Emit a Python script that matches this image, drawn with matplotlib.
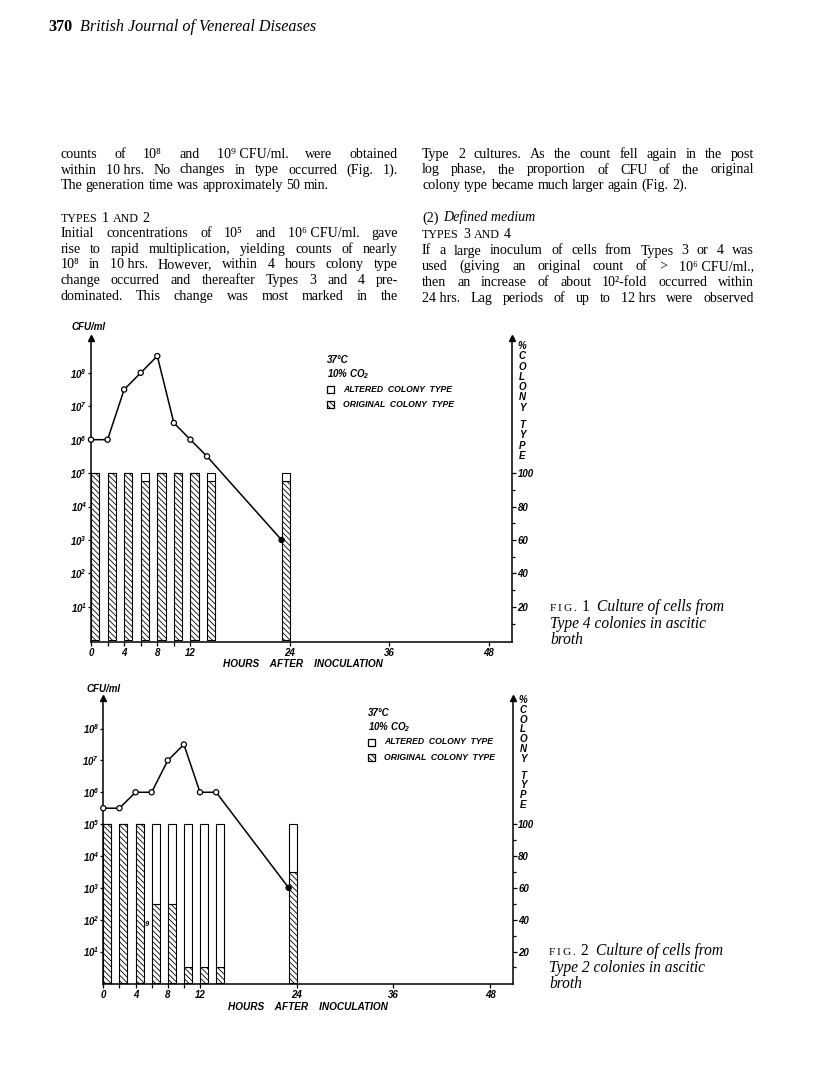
import matplotlib
matplotlib.use('Agg')
import matplotlib.pyplot as plt
from matplotlib.patches import Rectangle
from matplotlib.ticker import NullLocator, FixedLocator

# ---------------- data ----------------
hours = [0, 2, 4, 6, 8, 10, 12, 14, 23]
fig1_cfu = [1e6, 1e6, 10**7.5, 1e8, 10**8.5, 10**6.5, 1e6, 10**5.5, 1e3]
fig1_original_pct = [100, 100, 100, 95, 100, 100, 100, 95, 95]
fig2_cfu = [10**5.5, 10**5.5, 1e6, 1e6, 1e7, 10**7.5, 1e6, 1e6, 1e3]
fig2_original_pct = [100, 100, 100, 50, 50, 10, 10, 10, 70]

x_major_ticks = [0, 4, 8, 12, 24, 36, 48]
x_major_labels = ['0', '4', '8', '12', '24', '36', '48']
x_minor_ticks = [2, 6, 10]
y_log_ticks = [1e1, 1e2, 1e3, 1e4, 1e5, 1e6, 1e7, 1e8]
y_log_labels = [r'$10^{1}$', r'$10^{2}$', r'$10^{3}$', r'$10^{4}$',
                r'$10^{5}$', r'$10^{6}$', r'$10^{7}$', r'$10^{8}$']
pct_ticks = [20, 40, 60, 80, 100]
pct_labels = ['20', '40', '60', '80', '100']
pct_minor = [10, 30, 50, 70, 90]

legend_lines = ['37\u00b0C', r'10% CO$_{2}$']
legend_items = ['ALTERED  COLONY  TYPE', 'ORIGINAL  COLONY  TYPE']
right_label = ['%', 'C', 'O', 'L', 'O', 'N', 'Y', 'T', 'Y', 'P', 'E']
x_title = 'HOURS    AFTER    INOCULATION'

header_num = '370'
header_title = 'British Journal of Venereal Diseases'

left_col = [
    ('j', 'counts of 10\u2078 and 10\u2079\u00a0CFU/ml. were obtained'),
    ('j', 'within 10\u00a0hrs. No changes in type occurred (Fig. 1).'),
    ('l', 'The generation time was approximately 50 min.'),
    ('h', 'TYPES 1 AND 2'),
    ('j', 'Initial concentrations of 10\u2075 and 10\u2076\u00a0CFU/ml. gave'),
    ('j', 'rise to rapid multiplication, yielding counts of nearly'),
    ('j', '10\u2078 in 10\u00a0hrs. However, within 4 hours colony type'),
    ('j', 'change occurred and thereafter Types 3 and 4 pre-'),
    ('j', 'dominated. This change was most marked in the'),
]
right_col = [
    ('j', 'Type 2 cultures. As the count fell again in the post'),
    ('j', 'log phase, the proportion of CFU of the original'),
    ('l', 'colony type became much larger again (Fig. 2).'),
    ('i', '(2)|Defined medium'),
    ('h', 'TYPES 3 AND 4'),
    ('j', 'If a large inoculum of cells from Types 3 or 4 was'),
    ('j', 'used (giving an original count of > 10\u2076\u00a0CFU/ml.,'),
    ('j', 'then an increase of about 10\u00b2-fold occurred within'),
    ('j', '24\u00a0hrs. Lag periods of up to 12\u00a0hrs were observed'),
]
captions = [
    ('1', ['Culture of cells from', 'Type 4 colonies in ascitic', 'broth']),
    ('2', ['Culture of cells from', 'Type 2 colonies in ascitic', 'broth']),
]

# ---------------- setup ----------------
W, H = 816, 1087
plt.rcParams['hatch.linewidth'] = 0.6
plt.rcParams['mathtext.fontset'] = 'custom'
plt.rcParams['mathtext.rm'] = 'Liberation Sans:italic:bold'
plt.rcParams['mathtext.it'] = 'Liberation Sans:italic:bold'
plt.rcParams['mathtext.bf'] = 'Liberation Sans:italic:bold'
fig = plt.figure(figsize=(W / 100, H / 100), dpi=100)
fig.patch.set_facecolor('white')
renderer = fig.canvas.get_renderer()

SERIF = ['Liberation Serif', 'DejaVu Serif']
SANS = ['Liberation Sans', 'DejaVu Sans']
LAB = dict(family=SANS, fontweight='bold', fontstyle='italic')
LFS = 7.0


def fx(x):
    return x / W


def fy(y):
    return 1 - y / H


def put(x, y, s, **kw):
    kw.setdefault('ha', 'left')
    kw.setdefault('va', 'baseline')
    return fig.text(fx(x), fy(y), s, **kw)


def twidth(s, **kw):
    t = fig.text(0, 0, s, **kw)
    w = t.get_window_extent(renderer=renderer).width
    t.remove()
    return w


def spacew(**kw):
    return twidth('x x', **kw) - twidth('xx', **kw)


BFS = 10.1
BODY = dict(family=SERIF, fontsize=BFS)
BODY_I = dict(family=SERIF, fontsize=BFS, fontstyle='italic')
SC = dict(family=SERIF, fontsize=BFS * 0.86)


def draw_justified(x0, x1, y, line, kw, justify=True):
    words = line.split(' ')
    widths = [twidth(w_, **kw) for w_ in words]
    if justify and len(words) > 1:
        gap = (x1 - x0 - sum(widths)) / (len(words) - 1)
    else:
        gap = spacew(**kw)
    x = x0
    for w_, wd in zip(words, widths):
        put(x, y, w_, **kw)
        x += wd + gap


def draw_smallcaps_heading(x, y, line):
    for p in line.split(' '):
        kw = BODY if p.isdigit() else SC
        put(x, y, p, **kw)
        x += twidth(p, **kw) + spacew(**BODY) * 1.2


def draw_column(x0, x1, ys, lines):
    for (kind, line), y in zip(lines, ys):
        if kind == 'j':
            draw_justified(x0, x1, y, line, BODY, True)
        elif kind == 'l':
            draw_justified(x0, x1, y, line, BODY, False)
        elif kind == 'h':
            draw_smallcaps_heading(x0, y, line)
        elif kind == 'i':
            a, b = line.split('|')
            put(x0, y, a, **BODY)
            xx = x0 + twidth(a, **BODY) + spacew(**BODY) * 1.3
            put(xx, y, b, **BODY_I)


# header
HB = dict(family=SERIF, fontsize=11.6, fontweight='bold')
HI = dict(family=SERIF, fontsize=11.6, fontstyle='italic')
put(48, 31, header_num, **HB)
put(48 + twidth(header_num, **HB) + 8, 31, header_title, **HI)

left_ys = [158, 173.5, 189, 221.5, 237, 252.7, 268.3, 284, 300]
right_ys = [158, 173.5, 189, 221.5, 238, 254.5, 270.3, 286, 302]
draw_column(60.5, 398, left_ys, left_col)
draw_column(422, 754, right_ys, right_col)


# ---------------- panels ----------------
def panel(left, right, bottom, top, log_lo, log_hi, cfu, orig, leg_x, leg_y,
          cfu_lab, xtitle_x, xtitle_y, lab_x, lab_y0, lab_y1, cap_num, cap_lines,
          cap_x, cap_y):
    ax = fig.add_axes([fx(left), fy(bottom), (right - left) / W, (bottom - top) / H])
    ax2 = ax.twinx()
    ax.set_zorder(2)
    ax2.set_zorder(1)
    ax.patch.set_visible(False)
    ax.set_xlim(0, 50.8)
    ax.set_yscale('log')
    ax.set_ylim(10 ** log_lo, 10 ** log_hi)
    ax2.set_ylim(20 * log_lo, 20 * log_hi)

    altered = [100 - o for o in orig]
    ax2.bar(hours, orig, width=1, align='edge', color='white', edgecolor='black',
            hatch='\\\\\\\\\\\\', linewidth=0.8)
    ax2.bar(hours, altered, bottom=orig, width=1, align='edge', color='white',
            edgecolor='black', linewidth=0.8)

    ax.plot(hours, cfu, color='black', lw=1.1, zorder=3)
    fcs = ['white'] * (len(hours) - 1) + ['black']
    ax.scatter(hours, cfu, s=14, facecolors=fcs, edgecolors='black', linewidths=0.9,
               zorder=4, clip_on=False)

    for a in (ax, ax2):
        a.spines['top'].set_visible(False)
        for s in a.spines.values():
            s.set_linewidth(1.1)
    ax.spines['right'].set_visible(False)
    ax2.spines['left'].set_visible(False)
    ax2.spines['bottom'].set_visible(False)

    ax.set_xticks(x_major_ticks)
    ax.set_xticklabels(x_major_labels, fontsize=LFS, **LAB)
    ax.xaxis.set_minor_locator(FixedLocator(x_minor_ticks))
    ax.tick_params(axis='x', which='both', direction='out', length=3, width=0.9, pad=1.2)

    ax.yaxis.set_major_locator(FixedLocator(y_log_ticks))
    ax.yaxis.set_minor_locator(NullLocator())
    ax.set_yticklabels(y_log_labels, fontsize=LFS, **LAB)
    ax.tick_params(axis='y', which='major', direction='out', length=2.5, width=0.9, pad=0.3)

    ax2.yaxis.set_major_locator(FixedLocator(pct_ticks))
    ax2.set_yticklabels(pct_labels, fontsize=LFS, **LAB)
    ax2.yaxis.set_minor_locator(FixedLocator(pct_minor))
    ax2.tick_params(axis='y', which='major', direction='out', length=3, width=0.9, pad=1)
    ax2.tick_params(axis='y', which='minor', direction='out', length=2.5, width=0.9)

    for xa in (0, 1):
        ax.plot([xa], [1], marker='^', markersize=3.8, color='black',
                transform=ax.transAxes, clip_on=False, zorder=5)

    put(cfu_lab[0], cfu_lab[1], 'CFU/ml', fontsize=7, **LAB)
    put(xtitle_x, xtitle_y, x_title, ha='center', va='center', fontsize=7.2, **LAB)

    step = (lab_y1 - lab_y0) / 10.7
    y = lab_y0
    for i, ch in enumerate(right_label):
        put(lab_x, y, ch, ha='center', va='center', fontsize=7, **LAB)
        y += step * (1.7 if i == 6 else 1.0)

    put(leg_x, leg_y, legend_lines[0], va='center', fontsize=7, **LAB)
    put(leg_x, leg_y + 14, legend_lines[1], va='center', fontsize=7, **LAB)
    for k, item in enumerate(legend_items):
        yy = leg_y + 29 + 15.5 * k
        r = Rectangle((fx(leg_x), fy(yy + 3.5)), 7 / W, 7 / H, transform=fig.transFigure,
                      facecolor='white', edgecolor='black', linewidth=0.9,
                      hatch='\\\\\\\\\\\\' if k == 1 else None)
        fig.patches.append(r)
        put(leg_x + 16, yy, item, va='center', fontsize=6.2, **LAB)

    cap_kw = dict(family=SERIF, fontsize=8.2)
    cap_i = dict(family=SERIF, fontsize=11.2, fontstyle='italic')
    x = cap_x
    for ch in 'FIG.':
        put(x, cap_y, ch, **cap_kw)
        x += twidth(ch, **cap_kw) + 1.8
    x += 3
    put(x, cap_y, cap_num, family=SERIF, fontsize=11.2)
    x += twidth(cap_num, family=SERIF, fontsize=11.2) + 8
    for k, ln in enumerate(cap_lines):
        xx = x if k == 0 else cap_x
        put(xx, cap_y + 16.5 * k, ln, **cap_i)
    return ax


panel(91, 512, 642, 338, -0.05, 9.04, fig1_cfu, fig1_original_pct,
      leg_x=327, leg_y=360, cfu_lab=(72, 330), xtitle_x=303, xtitle_y=664,
      lab_x=522, lab_y0=346, lab_y1=456, cap_num=captions[0][0], cap_lines=captions[0][1],
      cap_x=550, cap_y=611)
panel(103.3, 512.7, 984, 698, -0.02, 8.96, fig2_cfu, fig2_original_pct,
      leg_x=368, leg_y=713, cfu_lab=(87, 692), xtitle_x=308, xtitle_y=1007,
      lab_x=523, lab_y0=700, lab_y1=805, cap_num=captions[1][0], cap_lines=captions[1][1],
      cap_x=549, cap_y=955)

# stray mark present in the scanned second figure
put(145, 926, '9', fontsize=5.5, **LAB)

fig.savefig('out.png', dpi=100, facecolor='white')
